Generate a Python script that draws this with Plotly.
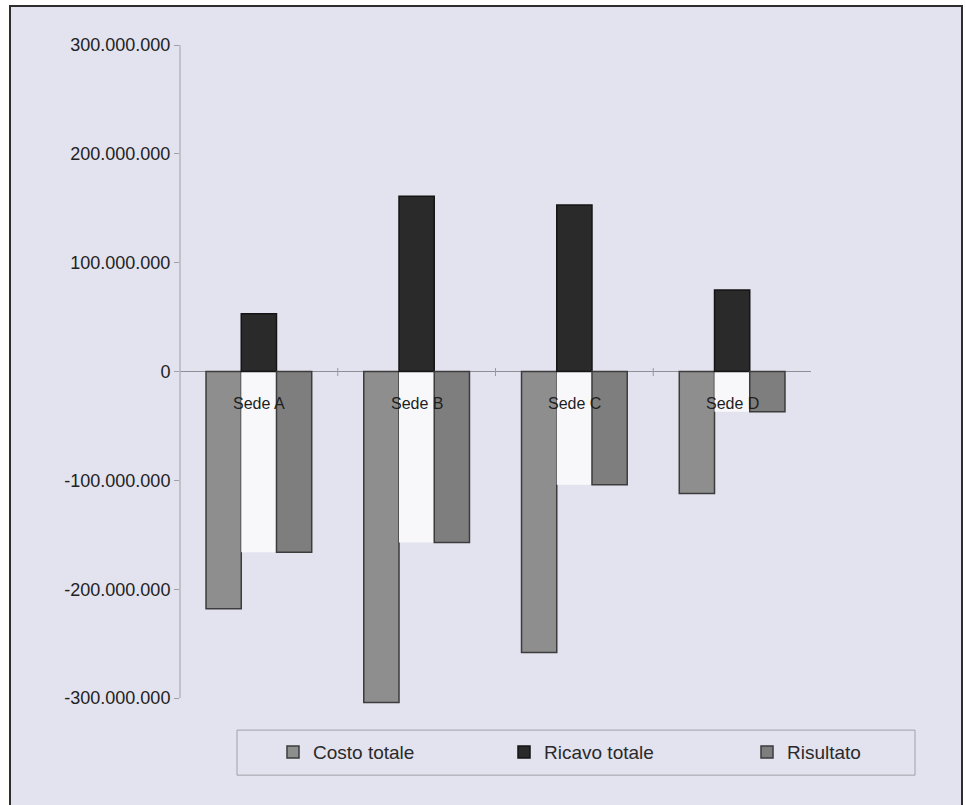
import plotly.graph_objects as go

# --- data -------------------------------------------------------------
sedi = ["Sede A", "Sede B", "Sede C", "Sede D"]
costo_totale = [-218e6, -304e6, -258e6, -112e6]
ricavo_totale = [53e6, 161e6, 153e6, 75e6]
risultato = [-166e6, -157e6, -104e6, -37e6]

tick_vals = [300e6, 200e6, 100e6, 0, -100e6, -200e6, -300e6]
tick_text = ["300.000.000", "200.000.000", "100.000.000", "0",
             "-100.000.000", "-200.000.000", "-300.000.000"]

Y_MIN_VIEW, Y_MAX = -310e6, 300e6   # a little room under the last tick
Y_AXIS_MIN = -300e6                  # where the drawn axis line stops

# --- layout geometry (pixels) -----------------------------------------
W, H = 966, 805
L, R, T = 180, 155, 45
y_top_px, y_m300_px = 45, 698
px_per_unit = (y_m300_px - y_top_px) / (Y_MAX - Y_AXIS_MIN)
plot_bottom_px = y_top_px + (Y_MAX - Y_MIN_VIEW) * px_per_unit
B = H - plot_bottom_px
pw, ph = W - L - R, plot_bottom_px - T


def px_x(p):
    return (p - L) / pw


def px_y(p):
    return (plot_bottom_px - p) / ph


FONT = "Liberation Sans, Arial, sans-serif"
BG = "#e3e2ef"

fig = go.Figure()

fig.add_trace(go.Bar(
    x=sedi, y=costo_totale, name="Costo totale", offsetgroup="costo",
    marker=dict(color="#8e8e8e", line=dict(color="#3c3c3c", width=1.5)),
    legend="legend"))

# light strip behind each category label, between the two negative bars
strip = [max(c, r) for c, r in zip(costo_totale, risultato)]
fig.add_trace(go.Bar(
    x=sedi, y=strip, offsetgroup="ricavo",
    marker=dict(color="#f8f8fb", line=dict(width=0)),
    showlegend=False, hoverinfo="skip"))

fig.add_trace(go.Bar(
    x=sedi, y=ricavo_totale, name="Ricavo totale", offsetgroup="ricavo",
    marker=dict(color="#2a2a2a", line=dict(color="#151515", width=1.5)),
    legend="legend2"))
fig.add_trace(go.Bar(
    x=sedi, y=risultato, name="Risultato", offsetgroup="risultato",
    marker=dict(color="#7e7e7e", line=dict(color="#3c3c3c", width=1.5)),
    legend="legend3"))

# category labels sitting just under the zero line
for s in sedi:
    fig.add_annotation(x=s, y=0, text=s, showarrow=False, yanchor="middle",
                       yshift=-32, font=dict(family=FONT, size=16, color="#1e1e1e"))

shapes = [
    # panel background and frame
    dict(type="rect", xref="paper", yref="paper", layer="below",
         x0=px_x(10), x1=px_x(962), y0=px_y(830), y1=px_y(6),
         fillcolor=BG, line=dict(color="#2e2e2e", width=2)),
    # legend box
    dict(type="rect", xref="paper", yref="paper", layer="below",
         x0=px_x(237), x1=px_x(915), y0=px_y(775), y1=px_y(730),
         fillcolor=BG, line=dict(color="#a0a0a8", width=1)),
    # value axis line, from the lowest to the highest tick
    dict(type="line", xref="paper", yref="y", x0=0, x1=0,
         y0=Y_AXIS_MIN, y1=Y_MAX, line=dict(color="#a0a0a6", width=1)),
]
# category tick marks crossing the zero line
for k in range(1, len(sedi)):
    shapes.append(dict(type="line", xref="x", yref="paper",
                       x0=k - 0.5, x1=k - 0.5, y0=px_y(376), y1=px_y(368),
                       line=dict(color="#9a9a9a", width=1)))
fig.update_layout(shapes=shapes)

leg_common = dict(orientation="h", yanchor="middle", xanchor="left",
                  bgcolor="rgba(0,0,0,0)", borderwidth=0,
                  font=dict(family=FONT, size=19, color="#2a2a2a"))
y_leg = px_y(752)
fig.update_layout(
    legend=dict(x=px_x(293 - 20), y=y_leg, **leg_common),
    legend2=dict(x=px_x(524 - 20), y=y_leg, **leg_common),
    legend3=dict(x=px_x(767 - 20), y=y_leg, **leg_common),
)

fig.update_layout(
    width=W, height=H,
    margin=dict(l=L, r=R, t=T, b=B, pad=0),
    paper_bgcolor="white",
    plot_bgcolor="rgba(0,0,0,0)",
    barmode="group", bargap=0.33, bargroupgap=0,
    showlegend=True,
    xaxis=dict(showticklabels=False, showline=False, showgrid=False, ticks="",
               zeroline=False, range=[-0.5, 3.5]),
    yaxis=dict(range=[Y_MIN_VIEW, Y_MAX], tickvals=tick_vals, ticktext=tick_text,
               showgrid=False, showline=False,
               ticks="outside", ticklen=5, tickcolor="#a0a0a6",
               zeroline=True, zerolinecolor="#8e8e96", zerolinewidth=1,
               tickfont=dict(family=FONT, size=18, color="#222222")),
)

fig.write_html("out.html")
